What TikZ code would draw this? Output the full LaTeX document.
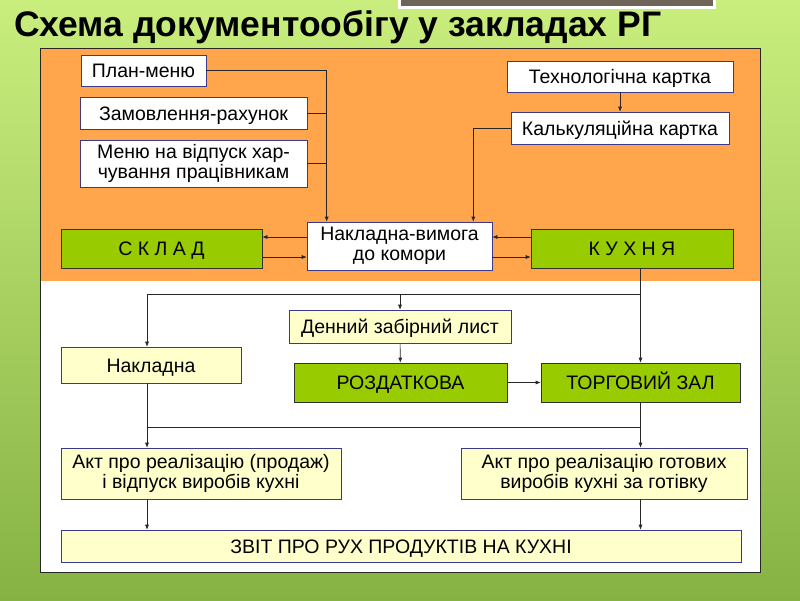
\documentclass[tikz,border=0pt]{standalone}
\usepackage{fontspec}
\setmainfont{Liberation Sans}
\usetikzlibrary{arrows.meta,positioning}
\definecolor{slidetop}{HTML}{C9EE7E}
\definecolor{slidebot}{HTML}{86B244}
\definecolor{panelorange}{HTML}{FFA64D}
\definecolor{unitgreen}{HTML}{99CC00}
\definecolor{notecream}{HTML}{FFFFCC}
\definecolor{boxline}{HTML}{3A3A8C}
\definecolor{greybar}{HTML}{6E6558}
\tikzset{
  flow-doc/.style={draw=boxline, fill=white, line width=0.6pt, align=center,
    font=\fontsize{19.5}{20}\selectfont, inner sep=0pt},
  flow-one/.style={text height=14pt, text depth=0pt},
  flow-note/.style={flow-doc, fill=notecream},
  flow-unit/.style={flow-doc, flow-one, fill=unitgreen, draw=black!80},
  flow-link/.style={draw=black!85, line width=0.6pt},
  flow-title/.style={font=\fontsize{35.5}{36}\selectfont\bfseries, inner sep=0pt}
}

\begin{document}
\begin{tikzpicture}[x=1pt, y=-1pt, >={Latex[length=5pt,width=4pt]}]
  % slide background
  \shade[top color=slidetop, bottom color=slidebot] (0,0) rectangle (800,600);
  \useasboundingbox (0,0) rectangle (800,600);
  \fill[white] (398,0) rectangle (716,9);
  \fill[greybar] (401,0) rectangle (713,6);
  \node[flow-title, anchor=base west] (title) at (14,36) {Схема документообігу у закладах РГ};

  % panel
  \fill[panelorange] (40,48) rectangle (760,281);
  \fill[white] (40,281) rectangle (760,572);
  \draw[black!85, line width=0.9pt] (40,48) rectangle (760,572);

  % documents, upper part
  \node[flow-doc, flow-one, minimum width=125pt, minimum height=31pt] (plan) at (143.5,70.5) {План-меню};
  \node[flow-doc, flow-one, minimum width=227pt, minimum height=32pt] (zamov) at (193.5,113) {Замовлення-рахунок};
  \node[flow-doc, minimum width=227pt, minimum height=47pt] (menu) at (193.5,163.5) {Меню на відпуск хар-\\чування працівникам};
  \node[flow-doc, flow-one, minimum width=226pt, minimum height=31pt] (tekhn) at (620,76.5) {Технологічна картка};
  \node[flow-doc, flow-one, minimum width=218pt, minimum height=32pt] (kalk) at (620,128) {Калькуляційна картка};
  \node[flow-doc, minimum width=185pt, minimum height=48pt] (nakvym) at (399.5,246) {Накладна-вимога\\до комори};
  \node[flow-unit, minimum width=201pt, minimum height=39pt] (sklad) at (161.5,248.5) {С К Л А Д};
  \node[flow-unit, minimum width=202pt, minimum height=39pt] (kukhnia) at (632,248.5) {К У Х Н Я};

  % documents, lower part
  \node[flow-note, flow-one, minimum width=222pt, minimum height=33pt] (dennyi) at (400,326.5) {Денний забірний лист};
  \node[flow-note, flow-one, minimum width=180pt, minimum height=36pt] (nakl) at (151,365) {Накладна};
  \node[flow-unit, minimum width=213pt, minimum height=39pt] (rozd) at (400.5,382.5) {РОЗДАТКОВА};
  \node[flow-unit, minimum width=199pt, minimum height=39pt] (torg) at (640.5,382.5) {ТОРГОВИЙ ЗАЛ};
  \node[flow-note, minimum width=280pt, minimum height=51pt] (aktl) at (201,473.5) {Акт про реалізацію (продаж)\\і відпуск виробів кухні};
  \node[flow-note, minimum width=286pt, minimum height=51pt] (aktr) at (604,473.5) {Акт про реалізацію готових\\виробів кухні за готівку};
  \node[flow-note, flow-one, minimum width=680pt, minimum height=32pt] (zvit) at (401,546) {ЗВІТ ПРО РУХ ПРОДУКТІВ НА КУХНІ};

  \coordinate (trunkL) at ([xshift=20pt]nakvym.north west);
  \coordinate (trunkR) at ([xshift=-19pt]nakvym.north east);
  \coordinate (bus1) at (641,294);
  \coordinate (bus2) at (147,427);

  % connectors
  \draw[flow-link, ->] (plan.east) -| (trunkL);
  \draw[flow-link] (zamov.east) -- (zamov.east -| trunkL);
  \draw[flow-link] (menu.east) -- (menu.east -| trunkL);
  \draw[flow-link, ->] (tekhn) -- (kalk);
  \draw[flow-link, ->] (kalk.west) -| (trunkR);
  \draw[flow-link, ->] ([yshift=9pt]nakvym.west) -- ([yshift=9pt]nakvym.west -| sklad.east);
  \draw[flow-link, ->] ([yshift=-11pt]nakvym.west -| sklad.east) -- ([yshift=-11pt]nakvym.west);
  \draw[flow-link, ->] ([yshift=9pt]nakvym.east -| kukhnia.west) -- ([yshift=9pt]nakvym.east);
  \draw[flow-link, ->] ([yshift=-11pt]nakvym.east) -- ([yshift=-11pt]nakvym.east -| kukhnia.west);
  \draw[flow-link, ->] (kukhnia.south -| torg.north) -- (torg.north);
  \draw[flow-link, ->] (bus1) -| (bus2 |- nakl.north);
  \draw[flow-link, ->] (bus1 -| dennyi.north) -- (dennyi.north);
  \draw[flow-link, ->] (dennyi) -- (rozd);
  \draw[flow-link, ->] (rozd) -- (torg);
  \draw[flow-link, ->] (bus2 |- nakl.south) -- (bus2 |- aktl.north);
  \draw[flow-link, ->] (torg.south) -- (torg.south |- aktr.north);
  \draw[flow-link] (bus2) -- (bus2 -| torg);
  \draw[flow-link, ->] (bus2 |- aktl.south) -- (bus2 |- zvit.north);
  \draw[flow-link, ->] (aktr.south -| torg) -- (zvit.north -| torg);
\end{tikzpicture}
\end{document}
